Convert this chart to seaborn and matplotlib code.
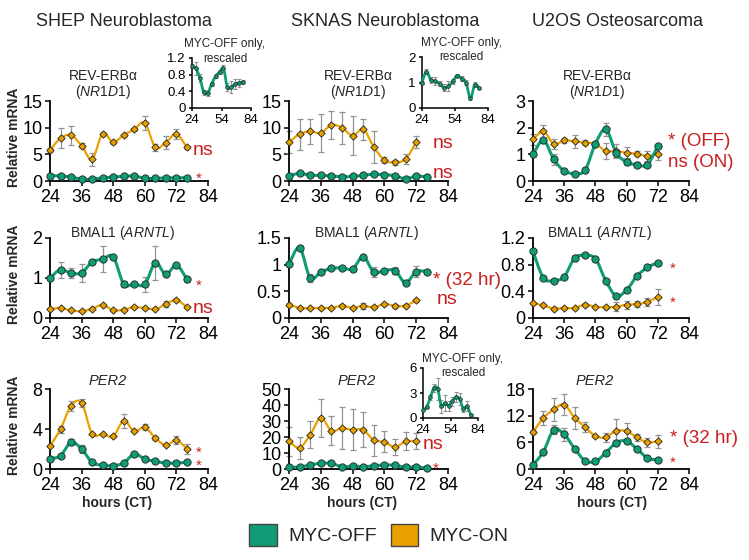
import numpy as np
import pandas as pd
import matplotlib
matplotlib.use("Agg")
import matplotlib.pyplot as plt
from matplotlib.path import Path
from matplotlib.patches import PathPatch, Patch
import seaborn as sns

# ---------------- data ----------------
hours14 = [24, 28, 32, 36, 40, 44, 48, 52, 56, 60, 64, 68, 72, 76]
hours13 = [24, 28, 32, 36, 40, 44, 48, 52, 56, 60, 64, 68, 72]
x_ticks = [24, 36, 48, 60, 72, 84]
inset_x_ticks = [24, 54, 84]

cell_lines = ["SHEP Neuroblastoma", "SKNAS Neuroblastoma", "U2OS Osteosarcoma"]
legend_labels = ["MYC-OFF", "MYC-ON"]

# SHEP REV-ERBa
shep_rev_off = [1.0, 0.95, 0.72, 0.38, 0.36, 0.58, 0.76, 0.86, 0.95, 0.50, 0.50, 0.58, 0.60, 0.62]
shep_rev_off_err = [0.05, 0.15, 0.10, 0.06, 0.08, 0.05, 0.05, 0.05, 0.08, 0.10, 0.15, 0.12, 0.10, 0.05]
shep_rev_on = [5.8, 8.0, 8.6, 6.6, 4.1, 8.9, 7.3, 8.6, 9.7, 10.9, 6.3, 7.2, 8.8, 6.3]
shep_rev_on_err = [0.4, 1.9, 1.8, 0.5, 1.2, 0.3, 0.3, 0.3, 0.3, 1.3, 0.6, 1.2, 1.0, 0.3]
# SKNAS REV-ERBa
sknas_rev_off = [1.0, 1.43, 1.10, 1.05, 0.95, 0.80, 0.85, 1.05, 1.27, 1.15, 1.00, 0.38, 0.92, 0.78]
sknas_rev_off_err = [0.05, 0.10, 0.10, 0.15, 0.10, 0.15, 0.20, 0.10, 0.05, 0.10, 0.10, 0.05, 0.10, 0.05]
sknas_rev_on = [7.3, 8.8, 9.3, 9.0, 10.5, 10.0, 8.5, 9.7, 6.4, 3.9, 3.5, 4.1, 7.3]
sknas_rev_on_err = [2.0, 2.9, 2.4, 3.6, 2.6, 3.0, 3.7, 2.0, 3.0, 0.6, 0.5, 1.0, 1.2]
# U2OS REV-ERBa
u2os_rev_off = [1.0, 1.53, 0.81, 0.38, 0.28, 0.40, 1.40, 1.94, 1.06, 0.71, 0.61, 0.61, 1.31]
u2os_rev_off_err = [0.03, 0.10, 0.20, 0.03, 0.03, 0.03, 0.03, 0.25, 0.15, 0.10, 0.10, 0.10, 0.05]
u2os_rev_on = [1.56, 1.86, 1.39, 1.52, 1.49, 1.44, 1.40, 1.12, 1.12, 1.06, 1.02, 0.94, 1.02]
u2os_rev_on_err = [0.20, 0.25, 0.20, 0.10, 0.25, 0.10, 0.05, 0.30, 0.25, 0.20, 0.10, 0.20, 0.25]

# SHEP BMAL1
shep_bmal_off = [1.0, 1.21, 1.12, 1.13, 1.40, 1.47, 1.53, 0.85, 0.85, 0.84, 1.38, 1.09, 1.32, 0.97]
shep_bmal_off_err = [0.02, 0.20, 0.12, 0.22, 0.03, 0.32, 0.03, 0.08, 0.03, 0.19, 0.43, 0.03, 0.03, 0.06]
shep_bmal_on = [0.22, 0.25, 0.19, 0.17, 0.23, 0.33, 0.19, 0.21, 0.27, 0.25, 0.22, 0.35, 0.45, 0.27]
shep_bmal_on_err = [0.02, 0.03, 0.02, 0.02, 0.03, 0.03, 0.02, 0.02, 0.03, 0.02, 0.02, 0.07, 0.03, 0.03]
# SKNAS BMAL1
sknas_bmal_off = [1.01, 1.32, 0.75, 0.86, 0.93, 0.94, 0.92, 1.15, 0.86, 0.89, 0.89, 0.66, 0.87, 0.87]
sknas_bmal_off_err = [0.02, 0.03, 0.08, 0.03, 0.02, 0.02, 0.03, 0.03, 0.10, 0.03, 0.07, 0.02, 0.10, 0.02]
sknas_bmal_on = [0.25, 0.19, 0.18, 0.19, 0.19, 0.23, 0.19, 0.23, 0.20, 0.26, 0.23, 0.23, 0.33]
sknas_bmal_on_err = [0.03, 0.02, 0.02, 0.02, 0.02, 0.03, 0.02, 0.06, 0.02, 0.02, 0.04, 0.03, 0.03]
# U2OS BMAL1
u2os_bmal_off = [1.0, 0.60, 0.56, 0.62, 0.90, 0.94, 0.89, 0.56, 0.33, 0.42, 0.63, 0.76, 0.83]
u2os_bmal_off_err = [0.01, 0.01, 0.01, 0.01, 0.05, 0.02, 0.02, 0.01, 0.02, 0.01, 0.01, 0.01, 0.03]
u2os_bmal_on = [0.22, 0.19, 0.14, 0.15, 0.15, 0.20, 0.17, 0.16, 0.17, 0.20, 0.21, 0.24, 0.32]
u2os_bmal_on_err = [0.01, 0.01, 0.02, 0.01, 0.01, 0.02, 0.01, 0.02, 0.07, 0.06, 0.05, 0.06, 0.12]

# SHEP PER2
shep_per_off = [1.03, 1.33, 2.67, 2.0, 0.67, 0.37, 0.33, 0.60, 1.50, 1.0, 0.77, 0.60, 0.60, 0.67]
shep_per_off_err = [0.05, 0.10, 0.30, 0.40, 0.05, 0.05, 0.05, 0.05, 0.10, 0.05, 0.05, 0.05, 0.05, 0.05]
shep_per_on = [2.27, 4.0, 6.33, 6.6, 3.5, 3.5, 3.27, 4.83, 3.77, 4.17, 3.1, 2.37, 2.87, 2.03]
shep_per_on_err = [0.1, 0.35, 0.5, 0.4, 0.1, 0.1, 0.1, 0.7, 0.1, 0.3, 0.2, 0.1, 0.4, 0.5]
# SKNAS PER2
sknas_per_off = [1.0, 1.3, 2.5, 3.6, 3.5, 1.4, 1.8, 1.5, 2.0, 2.5, 2.3, 1.1, 1.4, 0.4]
sknas_per_off_err = [0.05, 0.1, 0.3, 0.5, 1.3, 0.8, 1.0, 0.6, 0.5, 0.6, 0.7, 0.4, 0.6, 0.1]
sknas_per_on = [17.3, 13.3, 21.4, 32.0, 23.9, 25.5, 24.5, 24.5, 18.0, 17.0, 13.7, 17.3, 17.3]
sknas_per_on_err = [9.0, 7.0, 8.5, 12.0, 9.0, 13.0, 12.7, 11.0, 9.7, 6.6, 4.8, 5.7, 5.0]
# U2OS PER2
u2os_per_off = [0.9, 3.9, 8.85, 7.8, 4.6, 1.86, 1.7, 3.65, 5.9, 6.3, 4.5, 2.5, 2.0]
u2os_per_off_err = [0.1, 0.2, 1.0, 1.5, 0.4, 0.2, 0.2, 0.3, 0.6, 0.4, 0.3, 0.2, 0.2]
u2os_per_on = [8.3, 11.5, 13.4, 14.5, 11.5, 9.45, 7.4, 7.1, 8.6, 8.5, 7.1, 6.0, 6.25]
u2os_per_on_err = [0.5, 1.5, 2.5, 2.3, 2.5, 1.2, 0.3, 1.0, 2.7, 1.8, 0.7, 1.0, 1.5]

# y ticks per panel
yt_shep_rev = [0, 5, 10, 15]
yt_sknas_rev = [0, 5, 10, 15]
yt_u2os_rev = [0, 1, 2, 3]
yt_shep_bmal = [0, 1, 2]
yt_sknas_bmal = [0, 0.5, 1, 1.5]
yt_u2os_bmal = [0, 0.4, 0.8, 1.2]
yt_shep_per = [0, 4, 8]
yt_sknas_per = [0, 10, 20, 30, 40, 50]
yt_u2os_per = [0, 6, 12, 18]
yt_inset_shep_rev = [0, 0.4, 0.8, 1.2]
yt_inset_sknas_rev = [0, 1, 2]
yt_inset_sknas_per = [0, 3, 6]

# ---------------- style ----------------
sns.set_theme(style="ticks")
plt.rcParams["font.family"] = ["Liberation Sans", "DejaVu Sans"]
plt.rcParams["mathtext.fontset"] = "custom"
plt.rcParams["mathtext.rm"] = "Liberation Sans"
plt.rcParams["mathtext.it"] = "Liberation Sans:italic"

GREEN = "#109c74"
ORANGE = "#e8a000"
RED = "#c81e1e"
EDGE = "#222222"
W, H = 749, 560

fig = plt.figure(figsize=(W / 100, H / 100), dpi=100)


def rect(x0, x1, ytop, ybot):
    return [x0 / W, 1 - ybot / H, (x1 - x0) / W, (ybot - ytop) / H]


def smooth_path(x, y):
    pts = np.column_stack([np.asarray(x, float), np.asarray(y, float)])
    n = len(pts)
    verts = [pts[0]]
    codes = [Path.MOVETO]
    for i in range(n - 1):
        p0 = pts[i - 1] if i > 0 else pts[i]
        p1 = pts[i]
        p2 = pts[i + 1]
        p3 = pts[i + 2] if i + 2 < n else pts[i + 1]
        verts += [p1 + (p2 - p0) / 6.0, p2 - (p3 - p1) / 6.0, p2]
        codes += [Path.CURVE4] * 3
    return Path(verts, codes)


def draw_series(ax, x, y, err, color, marker, s, lw, cap=2.2, elw=0.9, mlw=0.6):
    ax.errorbar(x, y, yerr=err, fmt="none", ecolor="#939393", elinewidth=elw,
                capsize=cap, capthick=elw, zorder=2, clip_on=False)
    ax.add_patch(PathPatch(smooth_path(x, y), fill=False, edgecolor=color, lw=lw,
                           zorder=3, clip_on=False, transform=ax.transData))
    sns.scatterplot(x=x, y=y, ax=ax, marker=marker, s=s, color=color,
                    edgecolor=EDGE, linewidth=mlw, zorder=4, clip_on=False, legend=False)


def style_axis(ax, yticks, ylim_top, xt, fs, tl=3.5):
    ax.set_xlim(24, 84)
    ax.set_ylim(0, ylim_top)
    ax.set_xticks(xt)
    ax.set_yticks(yticks)
    ax.set_yticklabels([("%g" % v) for v in yticks])
    ax.set_xticklabels([str(v) for v in xt])
    ax.tick_params(axis="both", direction="out", length=tl, width=1.1,
                   labelsize=fs, pad=2, colors="black")
    ax.set_xlabel("")
    ax.set_ylabel("")
    ax.patch.set_alpha(0)
    sns.despine(ax=ax)
    for sp in ("left", "bottom"):
        ax.spines[sp].set_linewidth(1.3)
        ax.spines[sp].set_color("black")


col_x = [(50, 208), (289, 448), (533, 689)]
row_y = [(101, 181), (238, 318), (389, 469)]

panels = [
    (0, 0, hours14, shep_rev_off, shep_rev_off_err, hours14, shep_rev_on, shep_rev_on_err, yt_shep_rev),
    (0, 1, hours14, sknas_rev_off, sknas_rev_off_err, hours13, sknas_rev_on, sknas_rev_on_err, yt_sknas_rev),
    (0, 2, hours13, u2os_rev_off, u2os_rev_off_err, hours13, u2os_rev_on, u2os_rev_on_err, yt_u2os_rev),
    (1, 0, hours14, shep_bmal_off, shep_bmal_off_err, hours14, shep_bmal_on, shep_bmal_on_err, yt_shep_bmal),
    (1, 1, hours14, sknas_bmal_off, sknas_bmal_off_err, hours13, sknas_bmal_on, sknas_bmal_on_err, yt_sknas_bmal),
    (1, 2, hours13, u2os_bmal_off, u2os_bmal_off_err, hours13, u2os_bmal_on, u2os_bmal_on_err, yt_u2os_bmal),
    (2, 0, hours14, shep_per_off, shep_per_off_err, hours14, shep_per_on, shep_per_on_err, yt_shep_per),
    (2, 1, hours14, sknas_per_off, sknas_per_off_err, hours13, sknas_per_on, sknas_per_on_err, yt_sknas_per),
    (2, 2, hours13, u2os_per_off, u2os_per_off_err, hours13, u2os_per_on, u2os_per_on_err, yt_u2os_per),
]

for r, c, xo, yo, eo, xn, yn, en, yt in panels:
    ax = fig.add_axes(rect(col_x[c][0], col_x[c][1], row_y[r][0], row_y[r][1]))
    draw_series(ax, xn, yn, en, ORANGE, "D", 14, 1.6)
    draw_series(ax, xo, yo, eo, GREEN, "o", 28, 2.2)
    style_axis(ax, yt, yt[-1], x_ticks, 13)

# insets (MYC-OFF only, rescaled)
insets = [
    ((192, 251, 58, 108), hours14, shep_rev_off, shep_rev_off_err, yt_inset_shep_rev),
    ((422, 488, 57, 108), hours14, sknas_rev_off, sknas_rev_off_err, yt_inset_sknas_rev),
    ((423, 478, 368, 418), hours14, sknas_per_off, sknas_per_off_err, yt_inset_sknas_per),
]
for (x0, x1, yt0, yb0), xo, yo, eo, yt in insets:
    ax = fig.add_axes(rect(x0, x1, yt0, yb0))
    draw_series(ax, xo, yo, eo, GREEN, "o", 7, 2.0, cap=1.5, elw=0.8, mlw=0.5)
    style_axis(ax, yt, yt[-1], inset_x_ticks, 9.5, tl=2.5)
    for sp in ("left", "bottom"):
        ax.spines[sp].set_linewidth(1.1)


def ftext(x, y, s, **kw):
    fig.text(x / W, 1 - y / H, s, **kw)


# column titles
for cx, t in zip([124, 385, 617], cell_lines):
    ftext(cx, 22, t, ha="center", va="center", fontsize=13)

# inset titles
for cx, y1, y2 in [(225, 44, 59), (461, 43, 57), (463, 359, 373)]:
    ftext(cx, y1, "MYC-OFF only,", ha="center", va="center", fontsize=8.5)
    ftext(cx, y2, "rescaled", ha="center", va="center", fontsize=8.5)

# gene labels
for cx in [103, 358, 597]:
    ftext(cx, 76, "REV-ERBα", ha="center", va="center", fontsize=10)
    ftext(cx, 92, r"($\it{NR1D1}$)", ha="center", va="center", fontsize=10)
for cx in [123, 367, 600]:
    ftext(cx, 233, r"BMAL1 ($\it{ARNTL}$)", ha="center", va="center", fontsize=10)
for cx in [108, 357, 595]:
    ftext(cx, 381, "PER2", ha="center", va="center", fontsize=10.5, style="italic")

# y labels
for r in range(3):
    yc = (row_y[r][0] + row_y[r][1]) / 2 - 4
    ftext(14, yc, "Relative mRNA", rotation=90, ha="center", va="center",
          fontsize=10, fontweight="bold")

# x labels
for cx in [117, 362, 612]:
    ftext(cx, 503, "hours (CT)", ha="center", va="center", fontsize=10, fontweight="bold")

# significance annotations (x_left, baseline_y, text, size)
sig = [
    (193, 155, "ns", 14), (196, 183, "*", 11),
    (433, 148, "ns", 14), (433, 178, "ns", 14),
    (668, 146, "* (OFF)", 13.5), (668, 167, "ns (ON)", 13.5),
    (196, 290, "*", 11), (193, 313, "ns", 14),
    (433, 285, "* (32 hr)", 13.5), (437, 304, "ns", 14),
    (670, 273, "*", 11), (670, 307, "*", 11),
    (196, 457, "*", 11), (196, 470, "*", 11),
    (423, 449, "ns", 14), (433, 473, "*", 11),
    (670, 443, "* (32 hr)", 13.5), (670, 467, "*", 11),
]
for x, y, s, fs in sig:
    ftext(x, y, s, ha="left", va="baseline", fontsize=fs, color=RED)

# legend
handles = [Patch(facecolor=GREEN, edgecolor="#444444", label=legend_labels[0]),
           Patch(facecolor=ORANGE, edgecolor="#444444", label=legend_labels[1])]
fig.legend(handles=handles, loc="center", bbox_to_anchor=(379 / W, 1 - 535 / H),
           ncol=2, frameon=False, fontsize=14, handlelength=1.4, handleheight=1.4,
           handletextpad=0.6, columnspacing=0.7, borderpad=0)

fig.savefig("out.png", dpi=100)
